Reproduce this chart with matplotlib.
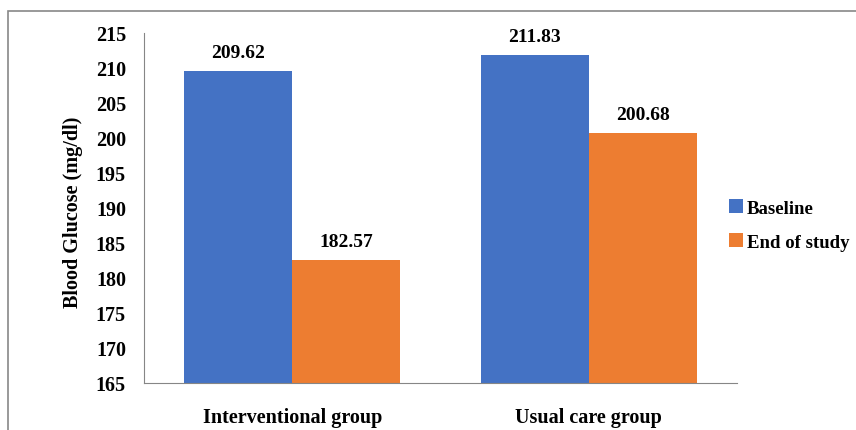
import numpy as np
import matplotlib
matplotlib.use("Agg")
import matplotlib.pyplot as plt
from matplotlib.patches import Rectangle

groups = ["Interventional group", "Usual care group"]
series = ["Baseline", "End of study"]
baseline = [209.62, 211.83]
end_of_study = [182.57, 200.68]
colors = ["#4472C4", "#ED7D31"]

plt.rcParams['font.family'] = ['Liberation Serif', 'DejaVu Serif']
plt.rcParams['font.weight'] = 'bold'

fig = plt.figure(figsize=(8.56, 4.31), dpi=100)
W, H = 856, 431
ax = fig.add_axes([144 / W, 1 - 384 / H, (737 - 144) / W, (384 - 34) / H])

x = np.arange(len(groups))
w = 0.365
for i, (vals, name) in enumerate(zip([baseline, end_of_study], series)):
    pos = x + (i - 0.5) * w
    ax.bar(pos, [v - 165 for v in vals], w, bottom=165, color=colors[i], label=name)
    for p, v in zip(pos, vals):
        ax.text(p, v + 1.4, f"{v:.2f}", ha='center', va='bottom', fontsize=14, fontweight='bold')

ax.set_xlim(-0.5, 1.5)
ax.set_ylim(165, 215)
ax.set_yticks(np.arange(165, 216, 5))
ax.set_xticks(x)
ax.set_xticklabels(groups, fontsize=14.5, fontweight='bold')
ax.tick_params(axis='both', length=0)
ax.tick_params(axis='y', labelsize=14.5, pad=13)
ax.tick_params(axis='x', pad=17)
for s in ['top', 'right']:
    ax.spines[s].set_visible(False)
for s in ['left', 'bottom']:
    ax.spines[s].set_color('#868686')
ax.set_ylabel("Blood Glucose (mg/dl)", fontsize=14.5, fontweight='bold')
ax.yaxis.set_label_coords(-0.103, 0.49)

fig.legend(loc='center left', bbox_to_anchor=(729 / W, 1 - 226 / H), frameon=False,
           fontsize=13.5, handlelength=0.75, handleheight=0.75, handletextpad=0.2,
           labelspacing=0.9, borderpad=0, borderaxespad=0)

fig.patches.append(Rectangle((8 / W, -0.1), 1.2, 1 - 12 / H + 0.1, transform=fig.transFigure,
                             fill=False, edgecolor='#888888', linewidth=1.2))

fig.savefig("out.png", dpi=100)
